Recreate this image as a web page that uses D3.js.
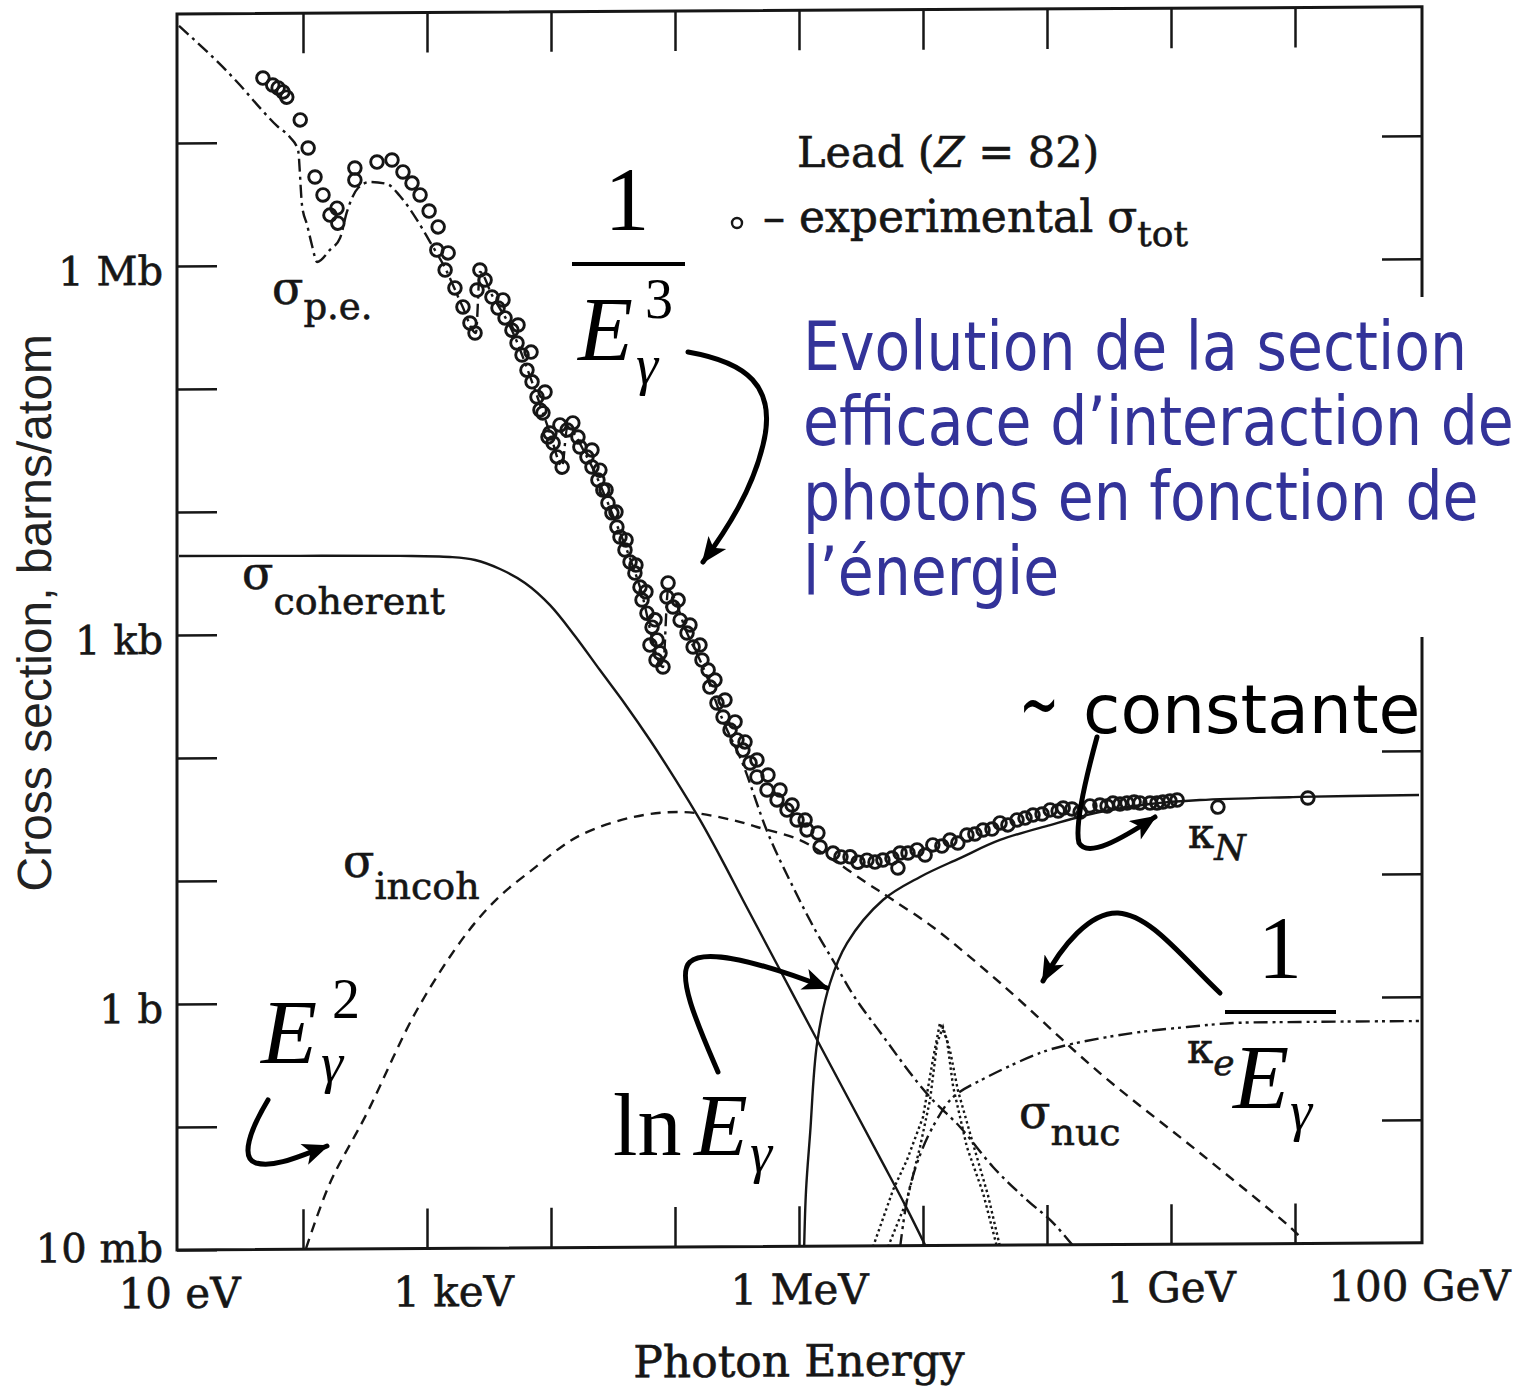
<!DOCTYPE html>
<html lang="fr">
<head>
<meta charset="UTF-8">
<title>Section efficace du plomb</title>
<script src="https://d3js.org/d3.v7.min.js"></script>
<style>
  body { margin: 0; background: #fff; }
  svg { display: block; }
  .scan { stroke: #161616; stroke-width: 0.6px; }
</style>
</head>
<body>
<svg id="chart" width="1517" height="1394"></svg>
<script>
// energies in eV, cross sections in barns
const xTicks = [1e1, 1e2, 1e3, 1e4, 1e5, 1e6, 1e7, 1e8, 1e9, 1e10, 1e11];
const xLabels = new Map([[1e1, "10 eV"], [1e3, "1 keV"], [1e6, "1 MeV"], [1e9, "1 GeV"], [1e11, "100 GeV"]]);
const yTicks = [1e-2, 1e-1, 1, 1e1, 1e2, 1e3, 1e4, 1e5, 1e6, 1e7];
const yLabels = new Map([[1e-2, "10 mb"], [1, "1 b"], [1e3, "1 kb"], [1e6, "1 Mb"]]);

// experimental sigma_tot (open circles)
const sigmaTot = [
  [47.5, 3.34e7], [57, 2.93e7], [63, 2.77e7], [69, 2.57e7], [74, 2.33e7], [95, 1.52e7], [110, 8.97e6],
  [125, 5.21e6], [145, 3.72e6], [165, 2.55e6], [188, 2.9e6], [191, 2.19e6], [262, 6.14e6], [262, 4.9e6],
  [395, 6.85e6], [522, 7.1e6], [640, 5.67e6], [757, 4.6e6], [879, 3.68e6], [1040, 2.72e6], [1230, 2.02e6],
  [1200, 1.31e6], [1480, 1.24e6], [1400, 9.0e5], [1680, 6.43e5], [1950, 4.5e5], [2220, 3.33e5],
  [2440, 2.76e5], [2670, 8.97e5], [2940, 7.44e5], [2530, 6.17e5], [3340, 5.4e5], [3740, 4.4e5],
  [4100, 5.11e5], [4260, 3.65e5], [4840, 2.9e5], [5420, 3.19e5], [5320, 2.28e5], [5840, 1.82e5],
  [6900, 1.92e5], [6400, 1.37e5], [7030, 1.1e5], [7710, 8.28e4], [8950, 9.08e4],
  [8150, 6.49e4], [8610, 6.14e4], [9800, 4.21e4], [1.04e4, 3.49e4], [1.12e4, 2.69e4], [1.23e4, 2.22e4],
  [1.5e4, 5.07e4], [1.35e4, 4.45e4], [1.65e4, 3.89e4], [1.71e4, 3.23e4], [1.95e4, 2.68e4], [2.14e4, 2.22e4],
  [2.39e4, 1.74e4], [2.62e4, 1.44e4], [2.88e4, 1.13e4], [3.1e4, 9.38e3], [3.4e4, 7.19e3], [3.6e4, 5.97e3],
  [3.95e4, 4.68e3], [4.34e4, 3.73e3], [4.75e4, 3.03e3], [5.22e4, 2.33e3], [5.42e4, 1.83e3], [5.94e4, 1.43e3],
  [6.53e4, 1.1e3], [7.16e4, 865], [7.57e4, 678], [8.0e4, 521], [8.79e4, 2.51e3], [8.61e4, 1.93e3],
  [9.64e4, 1.6e3], [1.1e5, 1.25e3], [1.25e5, 982], [1.4e5, 755], [1.65e5, 591], [1.85e5, 490], [1.91e5, 356],
  [2.18e5, 264], [2.44e5, 203], [2.78e5, 159], [3.16e5, 132], [3.53e5, 109], [4.03e5, 85.5], [4.58e5, 65.8],
  [5.52e5, 51.5], [6.65e5, 42.7], [8.0e5, 35.3], [9.64e5, 29.3], [1.16e6, 24.3], [1.48e6, 17.6],
  [1.88e6, 15.7], [2.18e6, 14.6], [2.58e6, 14.6], [2.99e6, 13.2], [3.53e6, 13.7], [4.1e6, 13.2],
  [4.75e6, 13.7], [5.62e6, 14.2], [6.53e6, 15.6], [7.57e6, 15.6], [8.95e6, 16.5], [1.2e7, 18.1],
  [1.42e7, 17.7], [1.65e7, 19.8], [2.26e7, 21.7], [2.62e7, 22.1], [3.05e7, 23.8], [3.6e7, 24.2],
  [4.18e7, 27.1], [5.73e7, 28.6], [6.65e7, 29.6], [7.71e7, 31.3], [9.12e7, 31.9], [1.06e8, 34.4],
  [1.23e8, 33.7], [1.35e8, 35.6], [1.59e8, 34.9], [2.67e8, 37.5], [3.05e8, 36.8], [3.4e8, 38.8],
  [3.88e8, 38.1], [4.42e8, 38.8], [5.04e8, 39.5], [6.77e8, 38.7], [7.71e8, 38.7], [8.61e8, 39.4],
  [9.82e8, 40.1], [1.12e9, 40.8], [2.39e9, 35.6], [1.27e10, 41.8], [6.28e6, 11.8],
  [2.78e4, 1.44e4], [3.34e4, 9.53e3], [4.03e4, 5.64e3], [4.84e4, 3.52e3], [5.83e4, 2.13e3], [6.9e4, 1.26e3],
  [6.28e4, 787], [7.03e4, 594], [1.06e5, 1.82e3], [1.32e5, 1.14e3], [1.59e5, 782], [2.1e5, 406],
  [2.53e5, 279], [3.05e5, 185], [3.67e5, 127], [4.58e5, 90.4], [5.62e5, 68.1], [7.03e5, 51.4],
  [8.79e5, 38.8], [1.12e6, 29.2], [1.42e6, 22.9], [2.14e4, 3.05e4], [2.48e4, 2.09e4], [1.18e4, 4.89e4],
  [9.46e3, 3.91e4], [1.04e7, 15.0], [1.91e7, 18.7], [4.84e7, 26.1], [1.85e8, 33.0], [2.22e8, 36.9],
  [5.62e8, 38.8]
];

// photoelectric (dash-dot)
const sigmaPE = [
  [10, 8.94e7], [31, 2.94e7], [45, 1.91e7], [61.7, 1.36e7], [78.5, 1.1e7], [91.2, 8.65e6], [98.2, 3.08e6],
  [108, 2.12e6], [118, 1.46e6], [130, 1.06e6], [165, 1.33e6], [199, 1.66e6], [226, 2.7e6], [278, 4.22e6],
  [347, 4.72e6], [475, 4.54e6], [605, 3.62e6], [830, 2.31e6], [1060, 1.52e6], [1400, 9.35e5], [1910, 4.67e5],
  [2480, 2.76e5], [2670, 8.65e5], [3340, 5.61e5], [4840, 2.9e5], [7030, 1.1e5], [9820, 4.21e4],
  [1.23e4, 2.26e4], [1.35e4, 4.61e4], [1.95e4, 2.68e4], [3.1e4, 9.38e3], [5.22e4, 2.33e3], [8.0e4, 521],
  [8.79e4, 2.2e3], [1.25e5, 982], [1.75e5, 472], [2.39e5, 199], [3.47e5, 87.3], [5.52e5, 23.9],
  [8.95e5, 8.36], [1.35e6, 3.73], [2.02e6, 1.86], [2.58e6, 1.21], [4.5e6, 0.548], [1.14e7, 0.161],
  [1.99e7, 0.0918], [3.67e7, 0.0433], [6.9e7, 0.0232], [1.12e8, 0.0151], [1.68e8, 0.0094]
];

// coherent / Rayleigh (solid)
const sigmaCoherent = [
  [10, 4.39e3], [94.6, 4.34e3], [605, 4.29e3], [1530, 4.18e3], [2440, 3.94e3], [3880, 3.32e3],
  [6170, 2.55e3], [9820, 1.68e3], [1.56e4, 940], [2.48e4, 495], [3.95e4, 262], [6.28e4, 133], [1.0e5, 64],
  [1.59e5, 29.6], [2.39e5, 14.0], [3.53e5, 6.59], [7.03e5, 1.77], [1.4e6, 0.475], [2.58e6, 0.149],
  [4.5e6, 0.0519], [7.16e6, 0.0215], [1.04e7, 0.0101]
];

// incoherent / Compton (dashed)
const sigmaIncoh = [
  [106, 0.0102], [165, 0.0344], [328, 0.127], [830, 0.871], [2100, 3.66], [3880, 7.29], [7160, 12.0],
  [1.18e4, 17.8], [1.81e4, 23.1], [4.58e4, 31.5], [1.16e5, 34.4], [2.94e5, 29.4], [4.58e5, 25.8],
  [1.02e6, 20.1], [1.88e6, 13.8], [3.53e6, 8.93], [5.73e6, 6.47], [1.2e7, 3.89], [4.18e7, 1.36],
  [2.67e8, 0.248], [1.71e9, 0.055], [9.12e9, 0.0136], [1.16e10, 0.0107]
];

// pair production, nuclear field (solid)
const kappaN = [
  [1.1e6, 0.0097], [1.14e6, 0.0287], [1.23e6, 0.0834], [1.4e6, 0.45], [1.78e6, 1.38], [2.44e6, 2.91],
  [4.75e6, 6.49], [9.46e6, 9.95], [1.99e7, 14.1], [4.18e7, 19.7], [1.06e8, 25.9], [2.67e8, 32.9],
  [6.77e8, 38.0], [1.71e9, 40.7], [1.1e10, 42.7], [1e11, 43.7]
];

// pair production, electron field (dash-dot-dot)
const kappaE = [
  [6.53e6, 0.0096], [7.57e6, 0.0258], [9.46e6, 0.0546], [1.25e7, 0.0993], [1.75e7, 0.161], [3.28e7, 0.233],
  [8.79e7, 0.364], [1.45e8, 0.421], [4.94e8, 0.524], [1.35e9, 0.582], [3.16e9, 0.624], [1.1e10, 0.632],
  [1e11, 0.635]
];

// photonuclear (dotted)
const sigmaNucA = [
  [3.95e6, 0.0098], [5.73e6, 0.0284], [7.43e6, 0.0498], [1.0e7, 0.111], [1.2e7, 0.323], [1.37e7, 0.644],
  [1.56e7, 0.469], [1.75e7, 0.195], [2.26e7, 0.063], [3.05e7, 0.0266], [3.95e7, 0.0097]
];
const sigmaNucB = [
  [5.22e6, 0.0098], [7.43e6, 0.0235], [9.46e6, 0.0634], [1.14e7, 0.153], [1.3e7, 0.444], [1.45e7, 0.597],
  [1.65e7, 0.388], [1.91e7, 0.183], [2.48e7, 0.072], [3.34e7, 0.0256], [4.18e7, 0.0097]
];

const ink = "#161616";
const blue = "#333399";
const serif = "'DejaVu Serif', serif";
const times = "'Liberation Serif', 'Times New Roman', serif";
const svg = d3.select("#chart");
svg.append("rect").attr("width", 1517).attr("height", 1394).attr("fill", "#fff");

const x = d3.scaleLog().domain([10, 1e11]).range([179, 1419]);
const y = d3.scaleLog().domain([1e-2, 1e8]).range([1251, 21]);

const defs = svg.append("defs");
defs.append("clipPath").attr("id", "clip")
  .append("rect").attr("x", 177).attr("y", 15).attr("width", 1245).attr("height", 1236);
defs.append("marker").attr("id", "head")
  .attr("viewBox", "0 0 12 10").attr("refX", 11).attr("refY", 5)
  .attr("markerWidth", 30).attr("markerHeight", 22)
  .attr("markerUnits", "userSpaceOnUse").attr("orient", "auto")
  .append("path").attr("d", "M0,0 L12,5 L0,10 L3,5 z").attr("fill", "#000");

// the scanned figure is slightly skewed
const plot = svg.append("g").attr("transform", "skewY(-0.332)");

// axes (ticks pointing inside the frame)
const axisStyle = g => {
  g.select(".domain").remove();
  g.selectAll(".tick line").attr("stroke", ink).attr("stroke-width", 2.5);
  g.selectAll(".tick text").attr("fill", ink).attr("class", "scan");
};

plot.append("g").attr("transform", "translate(0,1251)")
  .call(d3.axisBottom(x).tickValues(xTicks).tickSize(-40).tickPadding(28)
    .tickFormat(d => xLabels.get(d) || ""))
  .call(axisStyle)
  .call(g => g.selectAll(".tick line").filter(d => d === 1e1 || d === 1e11).remove())
  .call(g => g.selectAll(".tick text").attr("dx", d => d === 1e3 ? 26 : 0))
  .attr("font-family", serif).attr("font-size", 42);

plot.append("g").attr("transform", "translate(0,15)")
  .call(d3.axisTop(x).tickValues(xTicks.slice(1, -1)).tickSize(-40).tickFormat(""))
  .call(axisStyle);

plot.append("g").attr("transform", "translate(177,0)")
  .call(d3.axisLeft(y).tickValues(yTicks).tickSize(-40).tickPadding(14)
    .tickFormat(d => yLabels.get(d) || ""))
  .call(axisStyle)
  .call(g => g.selectAll(".tick text").attr("dy", d => d === 1e-2 ? "0.28em" : "0.46em"))
  .attr("font-family", serif).attr("font-size", 40);

plot.append("g").attr("transform", "translate(1422,0)")
  .call(d3.axisRight(y).tickValues(yTicks.slice(1)).tickSize(-40).tickFormat(""))
  .call(axisStyle);

plot.append("rect").attr("x", 177).attr("y", 15).attr("width", 1245).attr("height", 1236)
  .attr("fill", "none").attr("stroke", ink).attr("stroke-width", 3);

plot.append("text").attr("transform", "translate(51,613) rotate(-90)")
  .attr("text-anchor", "middle").attr("font-family", "'Liberation Sans', Arial, sans-serif")
  .attr("font-size", 48).attr("fill", "#222").text("Cross section, barns/atom");

plot.append("text").attr("x", 799).attr("y", 1381).attr("text-anchor", "middle").attr("class", "scan")
  .attr("font-family", serif).attr("font-size", 44).attr("fill", ink).text("Photon Energy");

// curves
const curves = plot.append("g").attr("clip-path", "url(#clip)");
const smooth = d3.line().x(d => x(d[0])).y(d => y(d[1])).curve(d3.curveCatmullRom.alpha(0.5));
const edged = d3.line().x(d => x(d[0])).y(d => y(d[1])).curve(d3.curveMonotoneX);
const straight = d3.line().x(d => x(d[0])).y(d => y(d[1]));

const series = [
  { data: sigmaCoherent, dash: null, gen: smooth },
  { data: sigmaIncoh, dash: "10,7", gen: smooth },
  { data: sigmaPE, dash: "13,5,3,5", gen: edged },
  { data: kappaN, dash: null, gen: smooth },
  { data: kappaE, dash: "14,5,3,4,3,5", gen: smooth },
  { data: sigmaNucA, dash: "2.5,3", gen: straight },
  { data: sigmaNucB, dash: "2.5,3", gen: straight }
];
curves.selectAll("path.curve").data(series).join("path")
  .attr("class", "curve")
  .attr("d", d => d.gen(d.data))
  .attr("fill", "none").attr("stroke", ink).attr("stroke-width", 2.4)
  .attr("stroke-dasharray", d => d.dash);

curves.append("g").selectAll("circle").data(sigmaTot).join("circle")
  .attr("cx", d => x(d[0])).attr("cy", d => y(d[1])).attr("r", 6.3)
  .attr("fill", "none").attr("stroke", ink).attr("stroke-width", 2.9);

// labels of the original figure
const over = svg.append("g");
function symLabel(px, py, sym, sub, o) {
  const t = over.append("text").attr("x", px).attr("y", py).attr("class", "scan")
    .attr("font-family", serif).attr("fill", ink);
  t.append("tspan").attr("font-size", o.size).text(sym);
  t.append("tspan").attr("dy", o.dy).attr("font-size", o.subSize)
    .attr("font-style", o.italic ? "italic" : null).text(sub);
}
symLabel(272, 304, "σ", "p.e.", { size: 46, subSize: 37, dy: 15 });
symLabel(242, 589, "σ", "coherent", { size: 46, subSize: 38, dy: 25 });
symLabel(343, 877, "σ", "incoh", { size: 46, subSize: 38, dy: 22 });
symLabel(1019, 1128, "σ", "nuc", { size: 46, subSize: 38, dy: 17 });
symLabel(1188, 848, "κ", "N", { size: 42, subSize: 36, dy: 12, italic: true });
symLabel(1187, 1063, "κ", "e", { size: 42, subSize: 36, dy: 12, italic: true });

const lead = over.append("text").attr("x", 797).attr("y", 167).attr("class", "scan")
  .attr("font-family", serif).attr("font-size", 43).attr("fill", ink);
lead.append("tspan").text("Lead (");
lead.append("tspan").attr("font-style", "italic").text("Z");
lead.append("tspan").text(" = 82)");

over.append("circle").attr("cx", 737).attr("cy", 223).attr("r", 5)
  .attr("fill", "none").attr("stroke", ink).attr("stroke-width", 2.4);
const expt = over.append("text").attr("x", 763).attr("y", 232).attr("class", "scan")
  .attr("font-family", serif).attr("font-size", 44).attr("fill", ink);
expt.append("tspan").text("– experimental σ");
expt.append("tspan").attr("dy", 14).attr("font-size", 36).text("tot");

// slide overlay: white box + blue caption
over.append("rect").attr("x", 797).attr("y", 297).attr("width", 720).attr("height", 340).attr("fill", "#fff");
const caption = ["Evolution de la section", "efficace d’interaction de", "photons en fonction de", "l’énergie"];
over.selectAll("text.caption").data(caption).join("text")
  .attr("class", "caption")
  .attr("transform", (d, i) => `translate(803,${370 + i * 75}) scale(0.86,1)`)
  .attr("font-family", "'DejaVu Sans', sans-serif").attr("font-size", 68).attr("fill", blue)
  .text(d => d);

over.append("text").attr("transform", "translate(1019,731) scale(0.6,1)")
  .attr("font-family", "'DejaVu Sans', sans-serif").attr("font-size", 80).attr("fill", "#000")
  .text("~");
over.append("text").attr("x", 1083).attr("y", 733).attr("font-family", "'DejaVu Sans', sans-serif")
  .attr("font-size", 68).attr("fill", "#000").text("constante");

// hand-written formulas
function mtext(px, py, s, size, italic, anchor) {
  over.append("text").attr("x", px).attr("y", py).attr("font-family", times)
    .attr("font-size", size).attr("font-style", italic ? "italic" : null)
    .attr("text-anchor", anchor || "start").attr("fill", "#000").text(s);
}
function bar(x1, x2, yy) {
  over.append("line").attr("x1", x1).attr("x2", x2).attr("y1", yy).attr("y2", yy)
    .attr("stroke", "#000").attr("stroke-width", 4);
}
mtext(627, 230, "1", 90, false, "middle");
bar(572, 685, 264);
mtext(578, 360, "E", 90, true);
mtext(645, 318, "3", 56, false);
mtext(636, 384, "γ", 56, true);

mtext(261, 1063, "E", 92, true);
mtext(332, 1018, "2", 56, false);
mtext(321, 1082, "γ", 56, true);

mtext(613, 1155, "ln", 88, false);
mtext(694, 1155, "E", 88, true);
mtext(750, 1172, "γ", 56, true);

mtext(1280, 977, "1", 88, false, "middle");
bar(1225, 1336, 1012);
mtext(1233, 1108, "E", 92, true);
mtext(1290, 1130, "γ", 56, true);

const arrows = [
  "M688,352 C745,362 778,385 763,445 C752,490 728,528 703,562",
  "M268,1100 C250,1130 240,1158 256,1163 C275,1168 300,1156 327,1146",
  "M718,1072 C700,1030 675,975 690,962 C705,948 760,962 827,988",
  "M1220,993 C1180,955 1150,915 1118,913 C1090,912 1062,945 1043,981",
  "M1097,737 C1088,770 1074,825 1079,843 C1088,858 1120,840 1155,817"
];
over.selectAll("path.arrow").data(arrows).join("path")
  .attr("class", "arrow").attr("d", d => d)
  .attr("fill", "none").attr("stroke", "#000").attr("stroke-width", 5)
  .attr("stroke-linecap", "round").attr("marker-end", "url(#head)");
</script>
</body>
</html>
